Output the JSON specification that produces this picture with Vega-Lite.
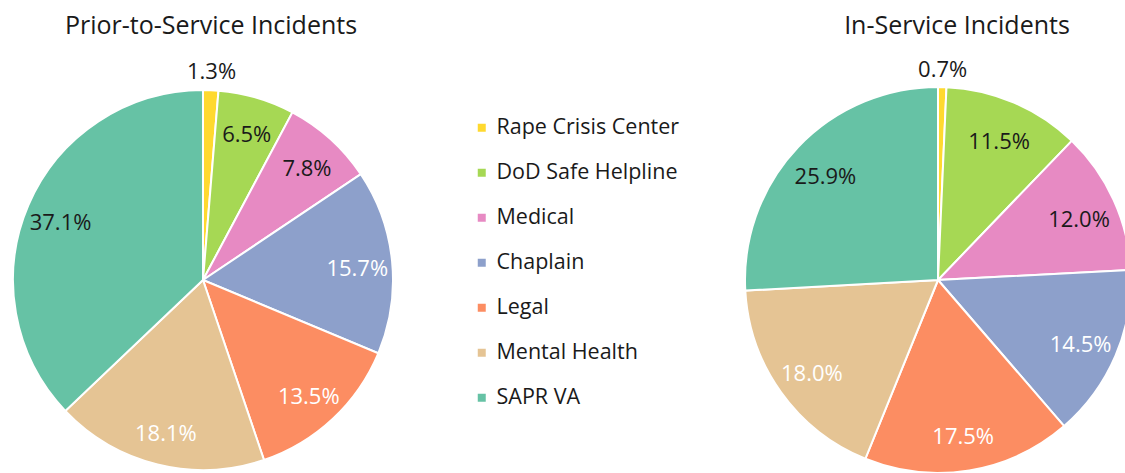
{
  "$schema": "https://vega.github.io/schema/vega-lite/v6.json",
  "padding": {"top": 14, "left": 0, "right": 0, "bottom": 0},
  "bounds": "flush",
  "spacing": 338,
  "background": "white",
  "config": {
    "view": {"stroke": null},
    "font": "Open Sans",
    "title": {"fontSize": 25, "fontWeight": "normal", "color": "#1a1a1a", "baseline": "alphabetic", "font": "Open Sans"}
  },
  "data": {
    "values": [
      {"chart": "Prior-to-Service", "service": "Rape Crisis Center", "pct": 0.013, "k": 1},
      {"chart": "Prior-to-Service", "service": "DoD Safe Helpline", "pct": 0.065, "k": 2},
      {"chart": "Prior-to-Service", "service": "Medical", "pct": 0.078, "k": 3},
      {"chart": "Prior-to-Service", "service": "Chaplain", "pct": 0.157, "k": 4},
      {"chart": "Prior-to-Service", "service": "Legal", "pct": 0.135, "k": 5},
      {"chart": "Prior-to-Service", "service": "Mental Health", "pct": 0.181, "k": 6},
      {"chart": "Prior-to-Service", "service": "SAPR VA", "pct": 0.371, "k": 7},
      {"chart": "In-Service", "service": "Rape Crisis Center", "pct": 0.007, "k": 1},
      {"chart": "In-Service", "service": "DoD Safe Helpline", "pct": 0.115, "k": 2},
      {"chart": "In-Service", "service": "Medical", "pct": 0.12, "k": 3},
      {"chart": "In-Service", "service": "Chaplain", "pct": 0.145, "k": 4},
      {"chart": "In-Service", "service": "Legal", "pct": 0.175, "k": 5},
      {"chart": "In-Service", "service": "Mental Health", "pct": 0.18, "k": 6},
      {"chart": "In-Service", "service": "SAPR VA", "pct": 0.259, "k": 7}
    ]
  },
  "hconcat": [
    {
      "width": 406,
      "height": 380,
      "title": {"text": "Prior-to-Service Incidents", "dx": 8, "offset": 22},
      "transform": [{"filter": "datum.chart == 'Prior-to-Service'"}],
      "encoding": {
        "theta": {"field": "pct", "type": "quantitative", "stack": true},
        "order": {"field": "k", "type": "quantitative"}
      },
      "layer": [
        {
          "mark": {"type": "arc", "outerRadius": 190, "stroke": "white", "strokeWidth": 2},
          "encoding": {
            "color": {
              "field": "service", "type": "nominal",
              "scale": {
                "domain": ["Rape Crisis Center", "DoD Safe Helpline", "Medical", "Chaplain", "Legal", "Mental Health", "SAPR VA"],
                "range": ["#FFD92F", "#A6D854", "#E78AC3", "#8DA0CB", "#FC8D62", "#E5C494", "#66C2A5"]
              },
              "legend": {
                "title": null, "orient": "none", "legendX": 471, "legendY": 27,
                "symbolType": "square", "symbolSize": 64, "symbolStrokeWidth": 0,
                "labelFontSize": 21.5, "labelFont": "Open Sans", "labelColor": "#1a1a1a",
                "labelOffset": 4, "rowPadding": 22, "labelLimit": 300
              }
            }
          }
        },
        {
          "mark": {"type": "text", "radius": 155, "fontSize": 22, "dy": 4},
          "encoding": {
            "detail": {"field": "service"},
            "text": {"condition": {"test": "datum.pct < 0.02", "value": ""}, "field": "pct", "type": "quantitative", "format": ".1%"},
            "color": {"condition": {"test": "indexof(['Chaplain','Legal','Mental Health'], datum.service) >= 0", "value": "white"}, "value": "#1a1a1a"}
          }
        },
        {
          "mark": {"type": "text", "radius": 210, "fontSize": 22, "dy": 2, "color": "#1a1a1a"},
          "encoding": {
            "detail": {"field": "service"},
            "text": {"condition": {"test": "datum.pct >= 0.02", "value": ""}, "field": "pct", "type": "quantitative", "format": ".1%"}
          }
        }
      ]
    },
    {
      "width": 388,
      "height": 380,
      "title": {"text": "In-Service Incidents", "dx": 19, "offset": 20},
      "transform": [{"filter": "datum.chart == 'In-Service'"}],
      "encoding": {
        "theta": {"field": "pct", "type": "quantitative", "stack": true},
        "order": {"field": "k", "type": "quantitative"}
      },
      "layer": [
        {
          "mark": {"type": "arc", "outerRadius": 193, "stroke": "white", "strokeWidth": 2},
          "encoding": {
            "color": {"field": "service", "type": "nominal"}
          }
        },
        {
          "mark": {"type": "text", "radius": 155, "fontSize": 22, "dy": 4},
          "encoding": {
            "detail": {"field": "service"},
            "text": {"condition": {"test": "datum.pct < 0.02", "value": ""}, "field": "pct", "type": "quantitative", "format": ".1%"},
            "color": {"condition": {"test": "indexof(['Chaplain','Legal','Mental Health'], datum.service) >= 0", "value": "white"}, "value": "#1a1a1a"}
          }
        },
        {
          "mark": {"type": "text", "radius": 212, "fontSize": 22, "dy": 2, "color": "#1a1a1a"},
          "encoding": {
            "detail": {"field": "service"},
            "text": {"condition": {"test": "datum.pct >= 0.02", "value": ""}, "field": "pct", "type": "quantitative", "format": ".1%"}
          }
        }
      ]
    }
  ]
}
